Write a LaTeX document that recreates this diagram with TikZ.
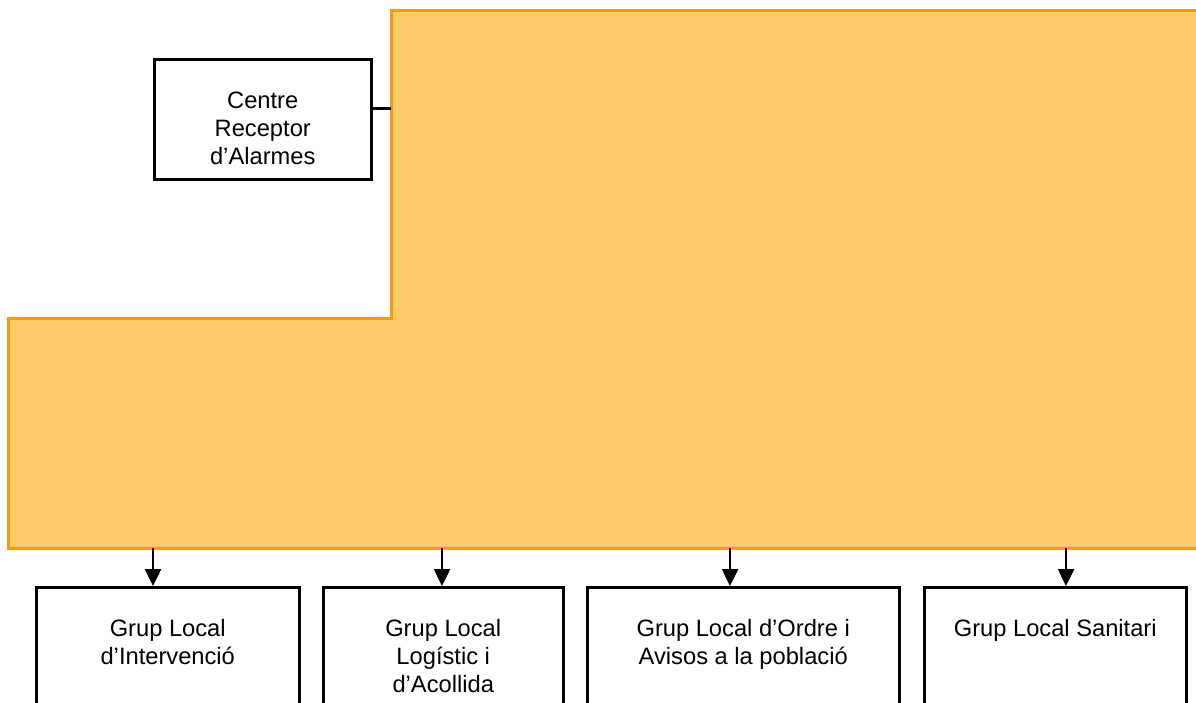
\documentclass[tikz,border=0pt]{standalone}
\usepackage{fontspec}
\setmainfont{Liberation Sans}
\usetikzlibrary{arrows.meta}
\definecolor{orfill}{HTML}{FFCB69}
\definecolor{orline}{HTML}{FF9900}
\tikzset{
  boxnode/.style={draw=black, line width=2.5pt, fill=white, inner sep=0pt, anchor=north west,
                  font=\fontsize{23.7}{28}\selectfont},
  arr/.style={line width=2.5pt, -{Triangle[length=17pt,width=16pt]}},
  link/.style={line width=2.5pt},
  orangezone/.style={draw=orline, line width=3pt, fill=orfill}
}
\newcommand{\boxtext}[3]{\parbox[t][#2pt][t]{#1pt}{\centering\rule{0pt}{49pt}#3}}
\begin{document}
\begin{tikzpicture}[x=1pt,y=-1pt]
  \useasboundingbox (0,0) rectangle (1196,702);
  \clip (0,0) rectangle (1196,702);
  % orange area
  \draw[orangezone] (1210,10) -- (391,10) -- (391,318) -- (8,318) -- (8,548) -- (1210,548);
  \coordinate (ol) at (391,10);
  \coordinate (o1) at (153,548);
  \coordinate (o2) at (442,548);
  \coordinate (o3) at (730,548);
  \coordinate (o4) at (1066,548);
  % Centre box
  \node[boxnode] (crc) at (153,58) {\boxtext{217}{120}{Centre\\Receptor\\d’Alarmes}};
  \draw[link] (crc.base east) -- (crc.base east -| ol);
  % bottom boxes
  \node[boxnode] (g1) at (35,586) {\boxtext{263}{150}{Grup Local\\d’Intervenció}};
  \node[boxnode] (g2) at (322,586) {\boxtext{240}{150}{Grup Local\\Logístic i\\d’Acollida}};
  \node[boxnode] (g3) at (586,586) {\boxtext{312}{150}{Grup Local d’Ordre i\\Avisos a la població}};
  \node[boxnode] (g4) at (923,586) {\boxtext{262}{150}{Grup Local Sanitari}};
  \draw[arr] (o1) -- (o1 |- g1.north);
  \draw[arr] (o2) -- (o2 |- g2.north);
  \draw[arr] (o3) -- (o3 |- g3.north);
  \draw[arr] (o4) -- (o4 |- g4.north);
\end{tikzpicture}
\end{document}
